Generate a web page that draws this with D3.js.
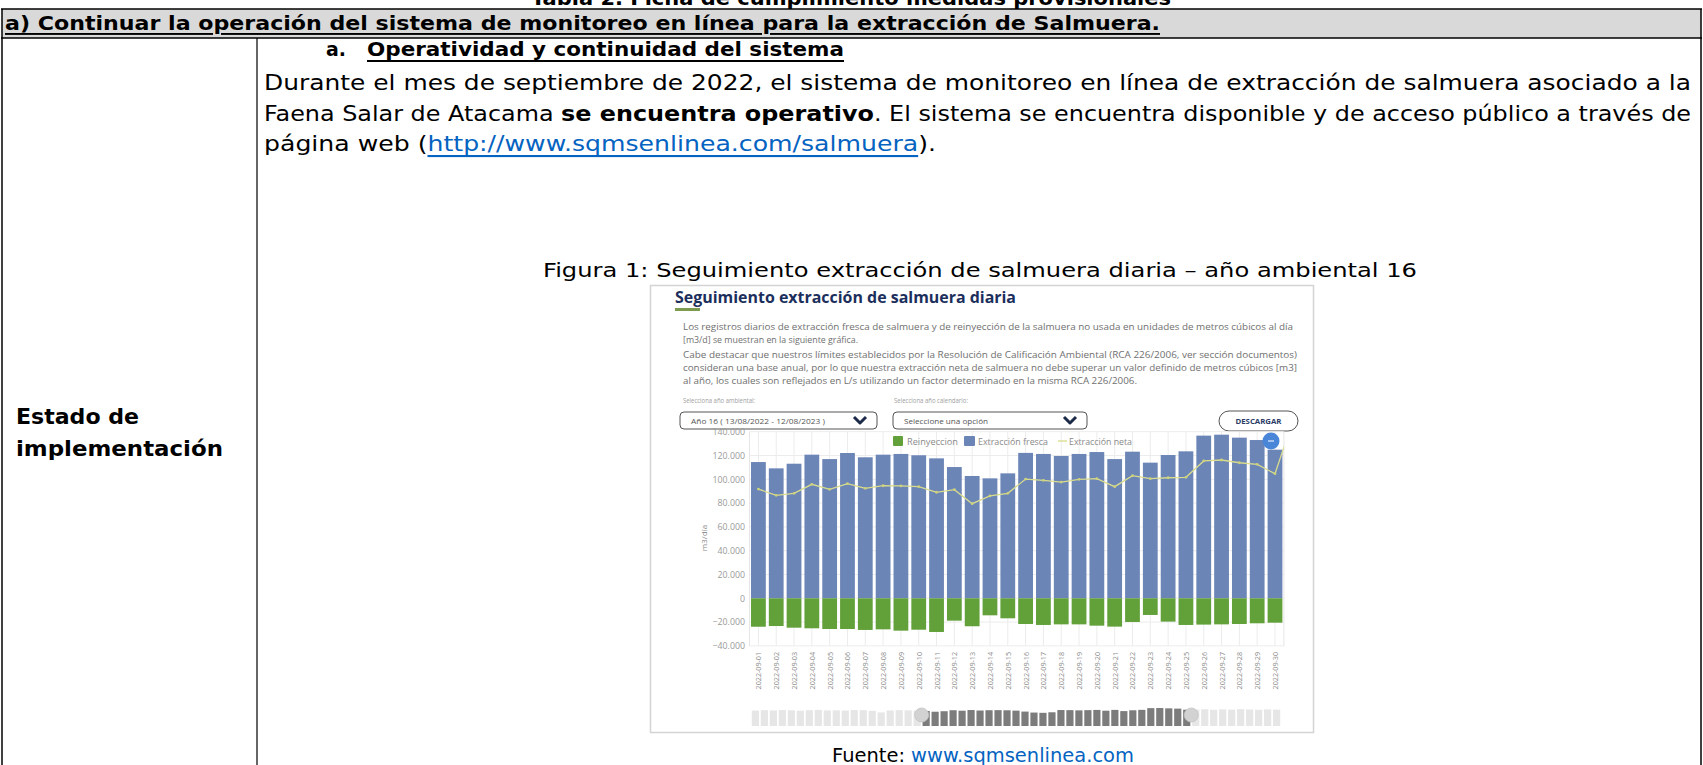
<!DOCTYPE html>
<html><head><meta charset="utf-8">
<script src="https://cdn.jsdelivr.net/npm/d3@7"></script>
<style>body{margin:0;background:#fff}svg{display:block}</style>
</head><body>
<svg id="c" width="1703" height="765"></svg>
<script>
// ---------- DATA ----------
const dates = ["2022-09-01","2022-09-02","2022-09-03","2022-09-04","2022-09-05","2022-09-06","2022-09-07","2022-09-08","2022-09-09","2022-09-10","2022-09-11","2022-09-12","2022-09-13","2022-09-14","2022-09-15","2022-09-16","2022-09-17","2022-09-18","2022-09-19","2022-09-20","2022-09-21","2022-09-22","2022-09-23","2022-09-24","2022-09-25","2022-09-26","2022-09-27","2022-09-28","2022-09-29","2022-09-30"];
const fresca = [114500,109200,113100,120700,117000,122100,118500,120700,121300,120200,117600,110300,102800,100800,105000,122200,121300,119600,121300,122900,117000,123200,114000,120400,123500,136700,137500,135000,133000,124900];
const reinyeccion = [-23900,-23300,-24700,-25200,-25800,-25800,-26600,-26100,-27200,-26400,-28300,-18800,-23500,-14300,-16800,-21600,-22400,-21900,-21900,-23000,-23800,-19900,-14000,-19600,-22400,-22100,-21900,-21600,-21000,-20500];
const neta = [91800,86500,88200,95800,91600,96300,92400,94600,94400,93800,89100,91300,79500,86000,88200,100200,99100,97700,100000,100500,93800,103000,100500,101300,101700,115400,116200,113900,112600,104700];
const netaSiguiente = 149000; // 2022-10-01, fuera del área visible
const yTicks = [140000,120000,100000,80000,60000,40000,20000,0,-20000,-40000];
const legendLabels = ["Reinyeccion","Extracción fresca","Extracción neta"];
const navAgosto = [118000,121000,119000,122000,120000,117000,121000,123000,119000,120000,118000,122000,121000,116000,104000,119000,121000,120000,118000];
const navOctubre = [126000,128000,124000,127000,125000,129000,126000,124000,127000,125000];

// ---------- SETUP ----------
const svg = d3.select("#c");
const DOC = "'DejaVu Sans', sans-serif";
const WEB = "'Open Sans', sans-serif";
function txt(g, x, y, s, o) {
  o = o || {};
  const t = g.append("text").attr("x", x).attr("y", y)
    .attr("font-family", o.family || DOC).attr("font-size", o.size || 20)
    .attr("font-weight", o.weight || "normal").attr("fill", o.fill || "#000")
    .attr("dominant-baseline", "central");
  if (o.anchor) t.attr("text-anchor", o.anchor);
  if (o.len) t.attr("textLength", o.len).attr("lengthAdjust", o.adj || "spacingAndGlyphs");
  if (o.deco) t.attr("text-decoration", o.deco);
  t.text(s);
  return t;
}
const fmt = d => d3.format(",")(d).replace(/,/g, ".");

// ---------- DOCUMENT TABLE ----------
const doc = svg.append("g");
txt(doc, 851, -2, "Tabla 2. Ficha de cumplimiento medidas provisionales", {weight:"bold", size:19, anchor:"middle", len:640});
doc.append("rect").attr("x", 2).attr("y", 9).attr("width", 1699).attr("height", 29).attr("fill", "#d9d9d9");
doc.append("line").attr("x1", 1).attr("x2", 1702).attr("y1", 9).attr("y2", 9).attr("stroke", "#000").attr("stroke-width", 1.5);
doc.append("line").attr("x1", 1).attr("x2", 1702).attr("y1", 38).attr("y2", 38).attr("stroke", "#000").attr("stroke-width", 1.5);
doc.append("line").attr("x1", 2).attr("x2", 2).attr("y1", 9).attr("y2", 765).attr("stroke", "#000").attr("stroke-width", 1.5);
doc.append("line").attr("x1", 1701).attr("x2", 1701).attr("y1", 9).attr("y2", 765).attr("stroke", "#000").attr("stroke-width", 1.5);
doc.append("line").attr("x1", 257).attr("x2", 257).attr("y1", 38).attr("y2", 765).attr("stroke", "#000").attr("stroke-width", 1.2);
txt(doc, 5, 23, "a) Continuar la operación del sistema de monitoreo en línea para la extracción de Salmuera.", {weight:"bold", size:19, len:1155, deco:"underline"});

txt(doc, 16, 417, "Estado de", {weight:"bold", size:21, len:123});
txt(doc, 16, 449, "implementación", {weight:"bold", size:21, len:207});

txt(doc, 326, 49, "a.", {weight:"bold", size:20, len:20});
txt(doc, 367, 49, "Operatividad y continuidad del sistema", {weight:"bold", size:20, len:477, deco:"underline"});

txt(doc, 264, 83, "Durante el mes de septiembre de 2022, el sistema de monitoreo en línea de extracción de salmuera asociado a la", {size:21, len:1427});
const l2 = doc.append("text").attr("x", 264).attr("y", 114).attr("font-family", DOC).attr("font-size", 21)
  .attr("dominant-baseline", "central").attr("textLength", 1427).attr("lengthAdjust", "spacingAndGlyphs");
l2.append("tspan").text("Faena Salar de Atacama ");
l2.append("tspan").attr("font-weight", "bold").text("se encuentra operativo");
l2.append("tspan").text(". El sistema se encuentra disponible y de acceso público a través de");
const l3 = doc.append("text").attr("x", 264).attr("y", 144).attr("font-family", DOC).attr("font-size", 21)
  .attr("dominant-baseline", "central").attr("textLength", 672).attr("lengthAdjust", "spacingAndGlyphs");
l3.append("tspan").text("página web (");
l3.append("tspan").attr("fill", "#0563c1").attr("text-decoration", "underline").text("http://www.sqmsenlinea.com/salmuera");
l3.append("tspan").text(").");

txt(doc, 980, 270, "Figura 1: Seguimiento extracción de salmuera diaria – año ambiental 16", {size:20, anchor:"middle", len:874});

const f = doc.append("text").attr("x", 832).attr("y", 755).attr("font-family", DOC).attr("font-size", 19)
  .attr("dominant-baseline", "central").attr("textLength", 302).attr("lengthAdjust", "spacingAndGlyphs");
f.append("tspan").text("Fuente: ");
f.append("tspan").attr("fill", "#0563c1").attr("text-decoration", "underline").text("www.sqmsenlinea.com");

// ---------- CARD ----------
const card = svg.append("g");
card.append("rect").attr("x", 650.5).attr("y", 285.5).attr("width", 663).attr("height", 447)
  .attr("fill", "#fff").attr("stroke", "#d4d4d4").attr("stroke-width", 1.5);
txt(card, 675, 297, "Seguimiento extracción de salmuera diaria", {family:WEB, weight:"bold", size:16, fill:"#1c2f5c", len:341});
card.append("rect").attr("x", 675).attr("y", 308).attr("width", 25).attr("height", 3).attr("fill", "#7d9b4f");
const pg = {family:WEB, size:8.5, fill:"#707070"};
txt(card, 683, 326, "Los registros diarios de extracción fresca de salmuera y de reinyección de la salmuera no usada en unidades de metros cúbicos al día", Object.assign({len:610}, pg));
txt(card, 683, 339, "[m3/d] se muestran en la siguiente gráfica.", Object.assign({len:175}, pg));
txt(card, 683, 354, "Cabe destacar que nuestros límites establecidos por la Resolución de Calificación Ambiental (RCA 226/2006, ver sección documentos)", Object.assign({len:614}, pg));
txt(card, 683, 367, "consideran una base anual, por lo que nuestra extracción neta de salmuera no debe superar un valor definido de metros cúbicos [m3]", Object.assign({len:614}, pg));
txt(card, 683, 380, "al año, los cuales son reflejados en L/s utilizando un factor determinado en la misma RCA 226/2006.", Object.assign({len:454}, pg));
txt(card, 683, 400, "Selecciona año ambiental:", {family:WEB, size:7.5, fill:"#a0a0a0", len:72});
txt(card, 894, 400, "Selecciona año calendario:", {family:WEB, size:7.5, fill:"#a0a0a0", len:74});
// dropdowns
function dropdown(x, w, label, tl) {
  card.append("rect").attr("x", x).attr("y", 412).attr("width", w).attr("height", 17).attr("rx", 4)
    .attr("fill", "#fff").attr("stroke", "#555").attr("stroke-width", 1);
  txt(card, x + 11, 421, label, {family:WEB, size:7.5, fill:"#555", len:tl});
  const cx = x + w - 17;
  card.append("path").attr("d", `M${cx-6},${417} L${cx},${423} L${cx+6},${417}`)
    .attr("fill", "none").attr("stroke", "#1c2a4a").attr("stroke-width", 3).attr("stroke-linejoin", "round");
}
dropdown(680, 197, "Año 16 ( 13/08/2022 - 12/08/2023 )", 134);
dropdown(893, 194, "Seleccione una opción", 84);
card.append("rect").attr("x", 1219).attr("y", 411).attr("width", 79).attr("height", 20).attr("rx", 10)
  .attr("fill", "#fff").attr("stroke", "#555").attr("stroke-width", 1);
txt(card, 1258.5, 421, "DESCARGAR", {family:WEB, size:7, weight:"bold", fill:"#2a3b66", anchor:"middle", len:46});

// ---------- CHART ----------
const x = d3.scaleBand().domain(dates).range([749.5, 1283.9]).paddingInner(0.17).paddingOuter(0.085);
const y = d3.scaleLinear().domain([-40000, 140000]).range([645.9, 431.7]);
const ch = svg.append("g");
// gridlines
ch.append("g").selectAll("line").data(yTicks).join("line")
  .attr("x1", 749.5).attr("x2", 1283.9).attr("y1", d => y(d)).attr("y2", d => y(d))
  .attr("stroke", "#ececec").attr("stroke-width", 1);
ch.append("g").selectAll("line").data(dates).join("line")
  .attr("x1", d => x(d) + x.bandwidth()/2).attr("x2", d => x(d) + x.bandwidth()/2)
  .attr("y1", y(140000)).attr("y2", y(-40000))
  .attr("stroke", "#ececec").attr("stroke-width", 1);
[749.5, 1283.9].forEach(px => ch.append("line").attr("x1", px).attr("x2", px).attr("y1", y(140000)).attr("y2", y(-40000)).attr("stroke", "#e6e6e6"));
// y axis
const ya = ch.append("g").attr("transform", "translate(745,0)")
  .call(d3.axisLeft(y).tickValues(yTicks).tickSize(0).tickPadding(0).tickFormat(fmt));
ya.select(".domain").remove();
ya.selectAll("text").attr("font-family", WEB).attr("font-size", 8.8).attr("fill", "#9a9a9a");
txt(ch, 0, 0, "m3/día", {family:WEB, size:8, fill:"#888", anchor:"middle"}).attr("transform", "translate(703,538) rotate(-90)");
// x axis
const xa = ch.append("g").attr("transform", `translate(0,${y(-40000)})`)
  .call(d3.axisBottom(x).tickSize(0).tickPadding(0));
xa.select(".domain").remove();
xa.selectAll("text").attr("font-family", WEB).attr("font-size", 7.2).attr("fill", "#8a8a8a")
  .attr("text-anchor", "end").attr("dy", null).attr("dominant-baseline", "central")
  .attr("transform", "translate(0,6) rotate(-90)");
// bars
ch.append("g").selectAll("rect").data(dates).join("rect")
  .attr("x", d => x(d)).attr("width", x.bandwidth())
  .attr("y", (d, i) => y(fresca[i])).attr("height", (d, i) => y(0) - y(fresca[i]))
  .attr("fill", "#6c85b7");
ch.append("g").selectAll("rect").data(dates).join("rect")
  .attr("x", d => x(d)).attr("width", x.bandwidth())
  .attr("y", y(0)).attr("height", (d, i) => y(reinyeccion[i]) - y(0))
  .attr("fill", "#62a03a");
// net line
ch.append("clipPath").attr("id", "plotclip").append("rect")
  .attr("x", 749.5).attr("y", 425).attr("width", 534.4).attr("height", 230);
const pts = dates.map((d, i) => [x(d) + x.bandwidth()/2, y(neta[i])]);
pts.push([x(dates[29]) + x.bandwidth()/2 + x.step(), y(netaSiguiente)]);
ch.append("path").attr("d", d3.line()(pts)).attr("clip-path", "url(#plotclip)")
  .attr("fill", "none").attr("stroke", "#d8dc8c").attr("stroke-width", 1.3);
ch.append("g").selectAll("circle").data(dates).join("circle")
  .attr("cx", d => x(d) + x.bandwidth()/2).attr("cy", (d, i) => y(neta[i])).attr("r", 1.4)
  .attr("fill", "#cdd27c");
// legend
const lg = ch.append("g");
lg.append("rect").attr("x", 893).attr("y", 436).attr("width", 10).attr("height", 10).attr("rx", 1).attr("fill", "#62a03a");
txt(lg, 907, 441, legendLabels[0], {family:WEB, size:8.5, fill:"#8a8a8a", len:51});
lg.append("rect").attr("x", 964).attr("y", 436).attr("width", 11).attr("height", 10).attr("rx", 1).attr("fill", "#6c85b7");
txt(lg, 978, 441, legendLabels[1], {family:WEB, size:8.5, fill:"#8a8a8a", len:70});
lg.append("line").attr("x1", 1058).attr("x2", 1067).attr("y1", 441).attr("y2", 441).attr("stroke", "#d8dc8c").attr("stroke-width", 1.3);
txt(lg, 1069, 441, legendLabels[2], {family:WEB, size:8.5, fill:"#8a8a8a", len:63});
// zoom button
ch.append("circle").attr("cx", 1271).attr("cy", 441).attr("r", 8.5).attr("fill", "#4a86d8");
ch.append("line").attr("x1", 1268).attr("x2", 1274).attr("y1", 441).attr("y2", 441).attr("stroke", "#fff").attr("stroke-width", 1);

// ---------- NAVIGATOR ----------
const navVals = navAgosto.concat(fresca, navOctubre);
const nx = d3.scaleBand().domain(d3.range(navVals.length)).range([750, 1282]).padding(0.2);
const ny = d3.scaleLinear().domain([0, 140000]).range([726, 707.7]);
const selStart = navAgosto.length, selEnd = navAgosto.length + fresca.length;
const nav = svg.append("g");
nav.selectAll("rect").data(navVals).join("rect")
  .attr("x", (d, i) => nx(i)).attr("width", nx.bandwidth())
  .attr("y", d => ny(d)).attr("height", d => ny(0) - ny(d))
  .attr("fill", (d, i) => (i >= selStart && i < selEnd) ? "#7c7c7c" : "#e6e6e6");
const hx = [nx(selStart) - nx.step()*0.1, nx(selEnd - 1) + nx.bandwidth() + nx.step()*0.1];
hx.forEach(h => nav.append("circle").attr("cx", h).attr("cy", 715).attr("r", 7)
  .attr("fill", "#d2d2d2").attr("stroke", "#c4c4c4").attr("stroke-width", 0.8));
</script>
</body></html>
